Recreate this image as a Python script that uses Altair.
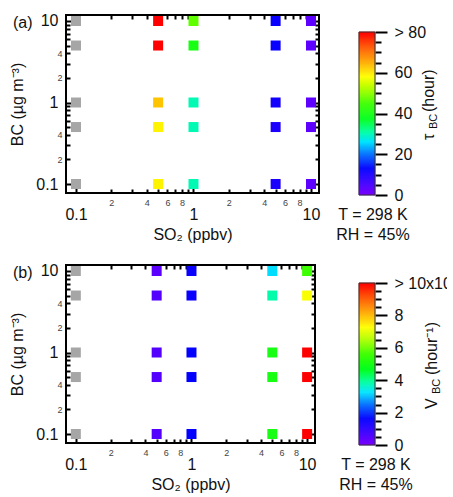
import altair as alt
import pandas as pd

# ---------------- data ----------------
so2 = [0.1, 0.5, 1, 5, 10]          # ppbv
bc = [10, 5, 1, 0.5, 0.1]           # ug m-3
# rows follow bc, columns follow so2; None = no value (gray square)
tau_bc = [
    [None, 90, 47, 12, 3],
    [None, 90, 40, 12, 3],
    [None, 63, 30, 11, 3],
    [None, 59, 30, 10, 3],
    [None, 59, 30, 10, 3],
]
v_bc = [
    [None, 0.4, 1.5, 3.2, 5.6],
    [None, 0.5, 1.5, 3.8, 7.2],
    [None, 0.5, 1.6, 5.0, 11],
    [None, 0.5, 1.6, 5.0, 11],
    [None, 0.5, 1.6, 5.0, 11],
]

major_ticks = [0.1, 1, 10]
minor_ticks = [0.2, 0.3, 0.4, 0.5, 0.6, 0.7, 0.8, 0.9, 2, 3, 4, 5, 6, 7, 8, 9]
x_minor_labels = {0.2: "2", 0.4: "4", 0.6: "6", 0.8: "8", 2: "2", 4: "4", 6: "6", 8: "8"}
y_minor_labels = {0.2: "2", 0.4: "4", 2: "2", 4: "4"}
major_labels = {0.1: "0.1", 1: "1", 10: "10"}

cb_a_ticks = [0, 5, 10, 15, 20, 25, 30, 35, 40, 45, 50, 55, 60, 65, 70, 75, 80]
cb_a_labels = {0: "0", 20: "20", 40: "40", 60: "60", 80: "> 80"}
cb_b_ticks = [0, 0.5, 1, 1.5, 2, 2.5, 3, 3.5, 4, 4.5, 5, 5.5, 6, 6.5, 7, 7.5, 8, 8.5, 9, 9.5, 10]
cb_b_labels = {0: "0", 2: "2", 4: "4", 6: "6", 8: "8", 10: "> 10x10\u207b\u00b2"}

cmap_stops_a = [0, 6, 13, 20, 26, 31, 37, 45, 52, 58, 66, 73, 80]
cmap_stops_b = [0, 0.75, 1.625, 2.5, 3.25, 3.875, 4.625, 5.625, 6.5, 7.25, 8.25, 9.125, 10]
cmap_colors = ["#7a00ff", "#4000ff", "#0000ff", "#0070ff", "#00e5ff", "#00ffa0",
               "#00ff20", "#40ff00", "#b0ff00", "#ffff00", "#ffa000", "#ff5000", "#ff0000"]
cb_a_levels = [i * 0.5 for i in range(160)]
cb_b_levels = [i * 0.0625 for i in range(160)]

FONT = "Liberation Sans"
X_DOM = [0.0822, 11.7]
Y_DOM = [0.0776, 11.84]


def arr(vals):
    return "[" + ",".join(repr(v) for v in vals) + "]"


def label_expr(mapping):
    expr = "''"
    for v, l in mapping.items():
        expr = f"datum.value == {v!r} ? '{l}' : ({expr})"
    return expr


MAJOR_TEST = f"indexof({arr(major_ticks)}, datum.value) >= 0"
ALL_TICKS = sorted(major_ticks + minor_ticks)


def cond(test, a, b):
    return {"condition": {"test": test, "value": a}, "value": b}


def plot_axes(orient, minor_map, title):
    common = dict(
        values=ALL_TICKS, grid=False, domain=False, tickColor="black", tickWidth=2,
        tickSize=cond(MAJOR_TEST, -6, -4), labelOverlap=False, labelFlush=False,
    )
    if orient in ("top", "right"):
        return alt.Axis(orient=orient, labels=False, title=None, **common)
    mapping = dict(major_labels)
    mapping.update(minor_map)
    if orient == "bottom":
        pad = cond(MAJOR_TEST, 19, 9)
        tpad = 4
    else:
        pad = cond(MAJOR_TEST, 14, 8)
        tpad = 10
    return alt.Axis(
        orient=orient, labelExpr=label_expr(mapping),
        labelFontSize=cond(MAJOR_TEST, 16, 9), labelPadding=pad,
        labelColor=cond(MAJOR_TEST, "#111111", "#444444"), labelFont=FONT,
        title=title, titleFont=FONT, titleFontSize=16, titleFontWeight="normal",
        titleColor="#111111", titlePadding=tpad, **common,
    )


def panel(vals, width, tag, stops):
    rows = []
    for i, b in enumerate(bc):
        for j, s in enumerate(so2):
            rows.append({"so2": s, "bc": b, "val": vals[i][j]})
    df = pd.DataFrame(rows)
    xs = alt.Scale(type="log", domain=X_DOM, nice=False)
    ys = alt.Scale(type="log", domain=Y_DOM, nice=False)
    cs = alt.Scale(domain=stops, range=cmap_colors, clamp=True, interpolate="rgb")
    base = alt.Chart(df)
    pts = base.transform_filter("isValid(datum.val)").mark_square(size=100, opacity=1).encode(
        x=alt.X("so2:Q", scale=xs, axis=plot_axes("bottom", x_minor_labels, "SO\u2082 (ppbv)")),
        y=alt.Y("bc:Q", scale=ys, axis=plot_axes("left", y_minor_labels, "BC (\u00b5g m\u207b\u00b3)")),
        color=alt.Color("val:Q", scale=cs, legend=None),
    )
    tr = base.mark_point(opacity=0).encode(
        x=alt.X("so2:Q", scale=xs, axis=plot_axes("top", {}, None)),
        y=alt.Y("bc:Q", scale=ys, axis=plot_axes("right", {}, None)),
    )
    gray = base.transform_filter("!isValid(datum.val)").mark_square(
        size=100, opacity=1, color="#a6a6a6").encode(
        x=alt.X("so2:Q", scale=xs, axis=None),
        y=alt.Y("bc:Q", scale=ys, axis=None),
    )
    lab = alt.Chart(pd.DataFrame({"t": [tag]})).mark_text(
        font=FONT, fontSize=16, align="left", baseline="middle", color="#111111"
    ).encode(x=alt.value(-53), y=alt.value(8), text="t:N")
    return alt.layer(pts, tr, gray, lab).resolve_axis(x="independent", y="independent").properties(
        width=width, height=178, view=alt.ViewBackground(stroke="black", strokeWidth=2))


def colorbar(levels, step, stops, ticks, labels, major_every, dom_top, xoff, title_main, title_sub, title_rest):
    df = pd.DataFrame({"lo": levels, "hi": [l + step for l in levels]})
    ys = alt.Scale(domain=[0, dom_top], nice=False, zero=False)
    cs = alt.Scale(domain=stops, range=cmap_colors, clamp=True, interpolate="rgb")
    mtest = f"abs(datum.value / {major_every} - round(datum.value / {major_every})) < 0.001"
    ax = alt.Axis(
        orient="right", values=ticks, labelExpr=label_expr(labels), grid=False, domain=False,
        tickColor="black", tickWidth=2, tickSize=cond(mtest, 12, 6),
        labelPadding=cond(mtest, 7, 13), labelFontSize=16, labelFont=FONT, labelColor="#111111",
        labelOverlap=False, labelFlush=False, title=None,
    )
    base = alt.Chart(df)
    bar = base.mark_rect(strokeWidth=0.6).encode(
        y=alt.Y("lo:Q", scale=ys, axis=ax), y2="hi:Q",
        color=alt.Color("lo:Q", scale=cs, legend=None),
        stroke=alt.Stroke("lo:Q", scale=cs, legend=None),
    )
    border = base.transform_aggregate(lo="min(lo)", hi="max(hi)").mark_rect(
        fillOpacity=0, stroke="#333333", strokeWidth=1).encode(
        y=alt.Y("lo:Q", scale=ys, axis=ax), y2="hi:Q")
    texts = []
    for (txt, x, y, fs) in [
        (title_main[0], title_main[1], title_main[2], 16),
        (title_sub[0], title_sub[1], title_sub[2], 11),
        (title_rest[0], title_rest[1], title_rest[2], 16),
    ]:
        texts.append(alt.Chart(pd.DataFrame({"t": [txt]})).mark_text(
            font=FONT, fontSize=fs, angle=270, align="left", baseline="middle", color="#111111"
        ).encode(x=alt.value(x), y=alt.value(y), text="t:N"))
    for txt, y in [("T = 298 K", 200), ("RH = 45%", 220)]:
        texts.append(alt.Chart(pd.DataFrame({"t": [txt]})).mark_text(
            font=FONT, fontSize=16, align="center", baseline="middle", color="#111111"
        ).encode(x=alt.value(xoff), y=alt.value(y), text="t:N"))
    return alt.layer(bar, border, *texts).properties(width=16, height=180)


pa = panel(tau_bc, 253, "(a)", cmap_stops_a)
ca = colorbar(cb_a_levels, 0.5, cmap_stops_a, cb_a_ticks, cb_a_labels, 20, 80 * 180 / 163, 14,
              ("\u03c4", 70, 125), ("BC", 75, 114), ("(hour)", 70, 97))
pb = panel(v_bc, 249, "(b)", cmap_stops_b)
cbb = colorbar(cb_b_levels, 0.0625, cmap_stops_b, cb_b_ticks, cb_b_labels, 2, 10 * 180 / 162, 17,
               ("V", 73, 144), ("BC", 78, 129), ("(hour\u207b\u00b9)", 73, 110))

chart = alt.concat(
    pa, ca, pb, cbb, columns=2, bounds="flush",
    spacing={"row": 70, "column": 40},
    align={"row": "all", "column": "none"},
).resolve_scale(color="independent", stroke="independent", x="independent", y="independent").properties(
    padding={"left": 8, "top": 11, "right": -16, "bottom": 0}
).configure(font=FONT, background="white").configure_view(stroke="transparent")

chart.save("out.html", embed_options={"renderer": "svg", "actions": False})
